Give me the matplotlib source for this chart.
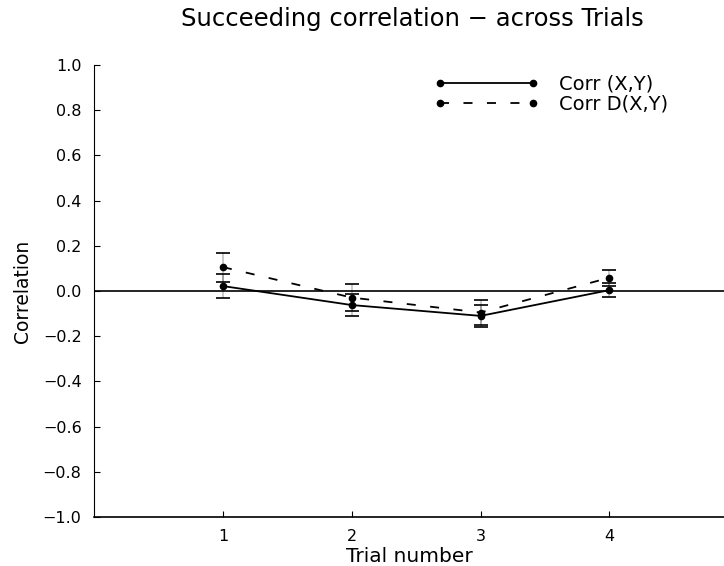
import matplotlib.pyplot as plt
from matplotlib.lines import Line2D

trials = [1, 2, 3, 4]
corr_xy = [0.022, -0.062, -0.11, 0.004]
corr_xy_err = [0.053, 0.05, 0.05, 0.03]
corr_dxy = [0.106, -0.029, -0.095, 0.059]
corr_dxy_err = [0.064, 0.06, 0.055, 0.035]
yticks = [-1.0, -0.8, -0.6, -0.4, -0.2, 0.0, 0.2, 0.4, 0.6, 0.8, 1.0]

dash = (0, (5, 8))

fig = plt.figure(figsize=(7.24, 5.66), dpi=100)
ax = fig.add_axes([0.130, 0.0866, 0.870, 0.7984])

ax.axhline(0, color='black', lw=1.2, zorder=1)

ax.errorbar(trials, corr_xy, yerr=corr_xy_err, color='black', lw=1.3,
            marker='o', ms=4.5, elinewidth=0.3, capsize=5, capthick=1.2)
ax.errorbar(trials, corr_dxy, yerr=corr_dxy_err, color='black', lw=1.3,
            ls=dash, marker='o', ms=4.5, elinewidth=0.3, capsize=5,
            capthick=1.2)

ax.set_xlim(0, 4.89)
ax.set_ylim(-1.0, 1.0)
ax.set_xticks(trials)
ax.set_yticks(yticks)
ax.set_yticklabels(['%.1f' % v if v >= 0 else '\u2212%.1f' % -v for v in yticks])
ax.tick_params(direction='in', length=4, width=0.8, labelsize=11.5, pad=9)

for s in ['top', 'right']:
    ax.spines[s].set_visible(False)
ax.spines['left'].set_linewidth(0.8)
ax.spines['bottom'].set_linewidth(1.2)

ax.set_xlabel('Trial number', fontsize=14.5, labelpad=2)
ax.set_ylabel('Correlation', fontsize=13.5, labelpad=8)
fig.text(0.57, 0.967, 'Succeeding correlation \u2212 across Trials',
         fontsize=17.5, ha='center', va='center')

# legend: plain lines with a dot at each end
handles = [Line2D([], [], color='black', lw=1.3, marker='o', ms=4.5),
           Line2D([], [], color='black', lw=1.3, ls=dash, marker='o', ms=4.5)]
labels = ['Corr (X,Y)', 'Corr D(X,Y)']
ax.legend(handles, labels, loc='upper left', bbox_to_anchor=(0.512, 1.017),
          frameon=False, numpoints=2, handlelength=5.4, fontsize=14,
          labelspacing=0.05, handletextpad=1.0)

fig.savefig('out.png', dpi=100)
